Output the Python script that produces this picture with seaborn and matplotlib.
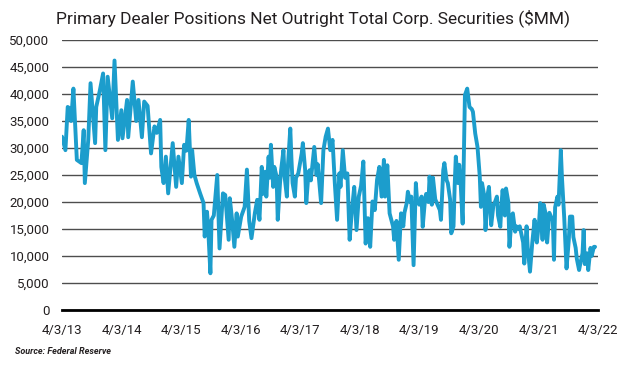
import numpy as np
import pandas as pd
import matplotlib
matplotlib.use("Agg")
import matplotlib.pyplot as plt
import seaborn as sns

# weekly observations, counted in weeks from 4/3/13
start_date = "2013-04-03"
weeks = [0, 3, 5, 7, 8, 10, 13, 17, 19, 20, 23, 25, 29, 30, 33, 36, 38, 40, 44, 46,
         49, 52, 53, 57, 58, 62, 65, 67, 70, 72, 75, 78, 81, 83, 86, 87, 89, 91, 93, 97,
         100, 102, 105, 107, 109, 111, 113, 114, 116, 118, 121, 124, 125, 127, 128, 130, 131, 133, 136, 138,
         141, 143, 146, 147, 149, 151, 153, 154, 157, 160, 162, 164, 166, 169, 171, 173, 175, 176, 178, 179,
         181, 182, 183, 185, 186, 188, 189, 191, 192, 194, 195, 197, 198, 200, 201, 202, 204, 205, 207, 210,
         211, 213, 214, 216, 217, 218, 221, 223, 224, 227, 229, 231, 233, 235, 237, 239, 241, 243, 244, 246,
         248, 250, 252, 254, 256, 258, 260, 262, 264, 266, 268, 270, 272, 274, 276, 278, 280, 282, 283, 285,
         287, 290, 291, 293, 295, 297, 299, 300, 302, 303, 305, 306, 308, 310, 311, 313, 315, 316, 318, 319,
         321, 322, 324, 325, 327, 328, 329, 331, 332, 334, 335, 337, 338, 340, 341, 343, 344, 345, 347, 348,
         349, 351, 353, 355, 357, 359, 360, 362, 364, 366, 367, 368, 370, 371, 373, 374, 376, 378, 379, 381,
         382, 384, 385, 386, 388, 389, 391, 392, 394, 395, 397, 398, 400, 401, 402, 404, 405, 407, 408, 410,
         412, 414, 415, 416, 418, 419, 421, 422, 424, 425, 427, 428, 430, 431, 432, 434, 435, 437, 438, 440,
         441, 442, 444, 445, 447, 448, 450, 451, 453, 454, 456, 457, 458, 460, 461, 463, 464, 466, 467]

# net outright positions, $ thousands of MM
positions_k = [32.1, 29.6, 37.6, 37.3, 35.0, 41.0, 27.8, 27.2, 33.3, 23.5, 31.5, 42.0, 30.9, 37.6, 40.5, 43.8, 29.6, 43.2, 35.5, 46.2,
               31.5, 37.0, 31.8, 38.9, 32.0, 42.3, 35.0, 38.9, 32.0, 38.6, 37.8, 29.0, 34.0, 32.8, 35.2, 26.5, 23.5, 28.4, 21.6, 30.9,
               22.8, 28.4, 23.5, 30.6, 29.5, 35.2, 24.7, 29.6, 25.0, 23.5, 21.6, 19.8, 13.6, 18.2, 15.4, 6.8, 16.7, 17.5, 25.0, 11.4,
               21.6, 21.3, 13.0, 20.7, 16.7, 11.7, 17.9, 13.6, 17.3, 19.1, 26.0, 16.5, 13.3, 18.0, 20.4, 16.7, 26.5, 21.5, 25.6, 21.0,
               28.4, 24.5, 30.6, 22.8, 26.5, 24.7, 16.7, 23.5, 26.0, 29.6, 24.7, 21.0, 27.0, 33.6, 28.0, 23.5, 21.0, 24.5, 25.3, 29.0,
               30.9, 26.0, 19.8, 25.5, 25.9, 24.0, 30.2, 25.0, 27.0, 19.8, 29.6, 32.1, 33.6, 29.6, 31.5, 23.5, 16.7, 25.3, 22.8, 29.6,
               24.5, 25.3, 13.0, 18.5, 22.8, 14.8, 21.0, 23.0, 27.5, 12.3, 17.0, 11.7, 20.1, 18.5, 24.1, 26.5, 21.0, 27.8, 21.0, 26.8,
               17.9, 15.5, 13.0, 16.5, 9.3, 17.9, 15.5, 18.0, 19.8, 21.9, 20.0, 21.0, 8.3, 23.5, 20.5, 19.5, 21.0, 15.4, 20.4, 21.5,
               20.0, 24.7, 19.5, 24.5, 20.5, 20.0, 19.5, 18.5, 16.7, 25.9, 27.2, 24.0, 23.5, 20.5, 14.2, 15.5, 23.0, 28.4, 23.5, 26.9,
               24.5, 16.0, 39.8, 41.0, 37.6, 37.2, 36.7, 32.7, 30.2, 24.7, 19.1, 23.5, 21.0, 14.8, 21.5, 22.8, 15.7, 19.5, 19.8, 21.0,
               17.5, 15.4, 19.5, 22.2, 17.5, 22.5, 20.0, 11.7, 17.5, 17.9, 14.5, 15.5, 15.0, 15.5, 14.5, 12.5, 8.6, 15.5, 11.5, 7.1,
               12.5, 16.7, 13.5, 12.5, 16.5, 19.8, 13.0, 19.5, 17.5, 12.5, 18.0, 17.5, 16.5, 9.3, 19.0, 21.0, 19.5, 29.6, 24.5, 17.0,
               12.5, 7.7, 13.0, 17.3, 17.3, 13.5, 11.5, 9.5, 7.4, 8.5, 10.5, 14.8, 8.5, 10.5, 7.4, 11.5, 10.0, 11.7, 11.7]

tick_dates = ["2013-04-03", "2014-04-03", "2015-04-03", "2016-04-03", "2017-04-03",
              "2018-04-03", "2019-04-03", "2020-04-03", "2021-04-03", "2022-04-03"]
tick_labels = ["4/3/13", "4/3/14", "4/3/15", "4/3/16", "4/3/17",
               "4/3/18", "4/3/19", "4/3/20", "4/3/21", "4/3/22"]
y_ticks = [0, 5000, 10000, 15000, 20000, 25000, 30000, 35000, 40000, 45000, 50000]

assert len(weeks) == len(positions_k)

df = pd.DataFrame({
    "date": pd.Timestamp(start_date) + pd.to_timedelta(np.array(weeks) * 7, unit="D"),
    "value": np.array(positions_k) * 1000,
})

sns.set_style("white")
plt.rcParams["font.family"] = ["Roboto", "DejaVu Sans"]

fig = plt.figure(figsize=(6.26, 3.74), dpi=100)
ax = fig.add_axes([62 / 626, 1 - 310 / 374, 536 / 626, 270 / 374])

sns.lineplot(data=df, x="date", y="value", color="#1c9dcc", linewidth=2.8, ax=ax, zorder=3)

ax.set_ylim(0, 50000)
ax.set_xlim(pd.Timestamp(tick_dates[0]), pd.Timestamp(tick_dates[-1]))
ax.set_yticks(y_ticks)
ax.set_yticklabels([f"{v:,}" for v in y_ticks])
ax.set_xticks(pd.to_datetime(tick_dates))
ax.set_xticklabels(tick_labels)
ax.set_xticks(pd.to_datetime([tick_dates[0], tick_dates[-1]]), minor=True)
ax.set_xlabel("")
ax.set_ylabel("")

ax.yaxis.grid(True, color="#4d4d4d", linewidth=1)
ax.xaxis.grid(False)
for side in ["left", "top", "right"]:
    ax.spines[side].set_visible(False)
ax.spines["bottom"].set_color("black")
ax.spines["bottom"].set_linewidth(2)

ax.tick_params(axis="y", length=0, pad=9, labelsize=9.5, labelcolor="#231f20")
ax.tick_params(axis="x", which="major", length=0, pad=10, labelsize=9.5, labelcolor="#231f20")
ax.tick_params(axis="x", which="minor", length=5, width=2, color="black", direction="out")

fig.text(313 / 626, 1 - 18 / 374, "Primary Dealer Positions Net Outright Total Corp. Securities ($MM)",
         ha="center", va="center", fontsize=12.5, color="#231f20")
fig.text(15 / 626, 1 - 352 / 374, "Source: Federal Reserve", ha="left", va="center",
         fontsize=6.5, style="italic", fontweight="bold", color="#231f20")

fig.savefig("out.png", dpi=100)
